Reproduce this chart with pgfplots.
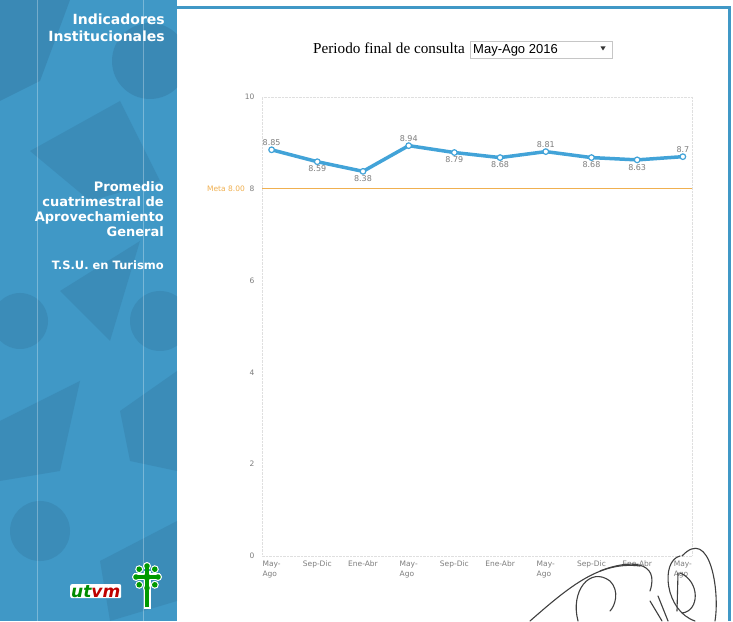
\documentclass[border=0pt]{standalone}
\usepackage{pgfplots}
\pgfplotsset{compat=1.18}
\usepackage{pgfplotstable}
\usepackage{fontspec}
\setmainfont{Liberation Serif}
\newfontfamily\verd{DejaVu Sans}
\newfontfamily\arial{Liberation Sans}
\definecolor{panel}{RGB}{64,152,198}
\definecolor{paneldark}{RGB}{45,105,145}
\definecolor{linec}{RGB}{66,163,216}
\definecolor{metac}{RGB}{240,176,80}
\definecolor{lbl}{RGB}{125,125,125}

\pgfplotstableread{
x y
0 8.85
1 8.59
2 8.38
3 8.94
4 8.79
5 8.68
6 8.81
7 8.68
8 8.63
9 8.7
}\datatable

\begin{document}
\begin{tikzpicture}[x=1pt,y=1pt]
\useasboundingbox (0,0) rectangle (733,621);
\fill[white] (0,0) rectangle (733,621);
% left panel
\begin{scope}
\clip (0,0) rectangle (177,621);
\fill[panel] (0,0) rectangle (177,621);
\fill[paneldark,opacity=0.3] (0,621) -- (70,621) -- (40,540) -- (0,520) -- cycle;
\fill[paneldark,opacity=0.3] (150,560) circle (38);
\fill[paneldark,opacity=0.25] (30,470) -- (120,520) -- (160,440) -- (90,420) -- cycle;
\fill[paneldark,opacity=0.25] (160,300) circle (30);
\fill[paneldark,opacity=0.25] (20,300) circle (28);
\fill[paneldark,opacity=0.25] (60,330) -- (140,380) -- (110,280) -- cycle;
\fill[paneldark,opacity=0.25] (0,200) -- (80,240) -- (60,150) -- (0,140) -- cycle;
\fill[paneldark,opacity=0.25] (120,210) -- (177,250) -- (177,150) -- (130,160) -- cycle;
\fill[paneldark,opacity=0.25] (40,90) circle (30);
\fill[paneldark,opacity=0.25] (100,60) -- (177,100) -- (177,20) -- (110,0) -- cycle;
\draw[white,opacity=0.3,line width=0.8pt] (37,0) -- (37,621);
\draw[white,opacity=0.3,line width=0.8pt] (143,0) -- (143,621);
\end{scope}
% frame
\fill[panel] (177,611.5) rectangle (731,614.5);
\fill[panel] (727.5,0) rectangle (731,614.5);
% panel texts
\begin{scope}[every node/.style={text=white, inner sep=0pt, anchor=base east}]
\node[font=\verd\bfseries\fontsize{14}{16}\selectfont] at (165,621-25) {Indicadores};
\node[font=\verd\bfseries\fontsize{14}{16}\selectfont] at (165,621-42) {Institucionales};
\node[font=\verd\bfseries\fontsize{13}{15}\selectfont] at (164,621-192) {Promedio};
\node[font=\verd\bfseries\fontsize{13}{15}\selectfont] at (164,621-207) {cuatrimestral de};
\node[font=\verd\bfseries\fontsize{13}{15}\selectfont] at (164,621-222) {Aprovechamiento};
\node[font=\verd\bfseries\fontsize{13}{15}\selectfont] at (164,621-237) {General};
\node[font=\verd\bfseries\fontsize{11.5}{13}\selectfont] at (164,621-270) {T.S.U. en Turismo};
\end{scope}
% logo
\node[anchor=base west, inner sep=1pt, fill=white, rounded corners=2pt, font=\verd\bfseries\itshape\fontsize{17}{17}\selectfont] at (70,621-597) {\textcolor{green!55!black}{ut}\textcolor{red!75!black}{vm}};
\foreach \a in {0,45,...,315} {\fill[white] ([shift={(\a:11)}]147,44) circle (4);}
\fill[white] (143.5,12) rectangle (150.5,50);
\fill[white] (134,41) rectangle (160,48);
\foreach \a in {0,45,...,315} {\fill[green!60!black] ([shift={(\a:11)}]147,44) circle (2.8);}
\fill[green!60!black] (145,14) rectangle (149,56);
\fill[green!60!black] (136,42.5) rectangle (158,46);
\fill[green!60!black] (147,44) circle (3.5);
% title
\node[anchor=base west, inner sep=0pt, font=\fontsize{15.2}{17}\selectfont] at (313,621-54) {Periodo final de consulta};
\draw[gray!45, line width=0.6pt] (470,621-58) rectangle (612,621-41);
\node[anchor=base west, inner sep=0pt, font=\arial\fontsize{13}{15}\selectfont] at (473,621-54) {May-Ago 2016};
\fill[black!80] (600.5,621-46.5) -- (605.5,621-46.5) -- (603,621-50.5) -- cycle;
% chart
\begin{axis}[
  at={(262pt,65pt)}, anchor=south west,
  scale only axis, width=430pt, height=459pt,
  xmin=-0.21, xmax=9.2, ymin=0, ymax=10,
  ytick={0,2,4,6,8,10},
  xtick={0,...,9},
  xticklabels={{May-\\Ago},Sep-Dic,Ene-Abr,{May-\\Ago},Sep-Dic,Ene-Abr,{May-\\Ago},Sep-Dic,Ene-Abr,{May-\\Ago}},
  axis line style={draw=gray!25, densely dotted},
  tick style={draw=none},
  /pgf/number format/assume math mode=true,
  yticklabel style={font=\verd\fontsize{7.5}{9}\selectfont, text=lbl, xshift=-4pt},
  xticklabel style={font=\verd\fontsize{7.5}{10.5}\selectfont, text=lbl, align=left, yshift=-1pt},
  clip=false,
]
\addplot[metac, line width=1.3pt] coordinates {(-0.21,8) (9.2,8)};
\node[anchor=east, text=metac, inner sep=0pt, font=\verd\fontsize{7.5}{9}\selectfont] at ([xshift=-17pt]axis cs:-0.21,8) {Meta 8.00};
\addplot[linec, line width=3.5pt, mark=*, mark size=2.8pt, mark options={fill=white, draw=linec, line width=1.2pt}] table {\datatable};
\addplot[draw=none, mark=none, nodes near coords, point meta=explicit symbolic,
  every node near coord/.style={font=\verd\fontsize{8}{9}\selectfont, text=lbl, anchor=south, inner sep=1pt, yshift=3pt}]
  coordinates {(0,8.85)[8.85] (3,8.94)[8.94] (6,8.81)[8.81] (9,8.7)[8.7]};
\addplot[draw=none, mark=none, nodes near coords, point meta=explicit symbolic,
  every node near coord/.style={font=\verd\fontsize{8}{9}\selectfont, text=lbl, anchor=north, inner sep=1pt, yshift=-3pt}]
  coordinates {(1,8.59)[8.59] (2,8.38)[8.38] (4,8.79)[8.79] (5,8.68)[8.68] (7,8.68)[8.68] (8,8.63)[8.63]};
\end{axis}
% handwritten signature (scan artefact)
\begin{scope}[draw=black!75, line width=1.1pt, line cap=round]
\draw (530,0) .. controls (570,35) and (600,60) .. (640,55);
\draw (578,0) .. controls (570,30) and (590,55) .. (610,40) .. controls (620,30) and (615,15) .. (610,10);
\draw (600,50) .. controls (630,62) and (660,60) .. (650,30);
\draw (650,20) -- (662,0);
\draw (658,25) -- (668,0);
\draw (680,65) .. controls (660,60) and (665,10) .. (695,0);
\draw (682,65) .. controls (710,95) and (720,30) .. (715,0);
\draw (680,48) .. controls (700,40) and (700,10) .. (682,8);
\draw (677,10) -- (678,48);
\end{scope}
\end{tikzpicture}
\end{document}
